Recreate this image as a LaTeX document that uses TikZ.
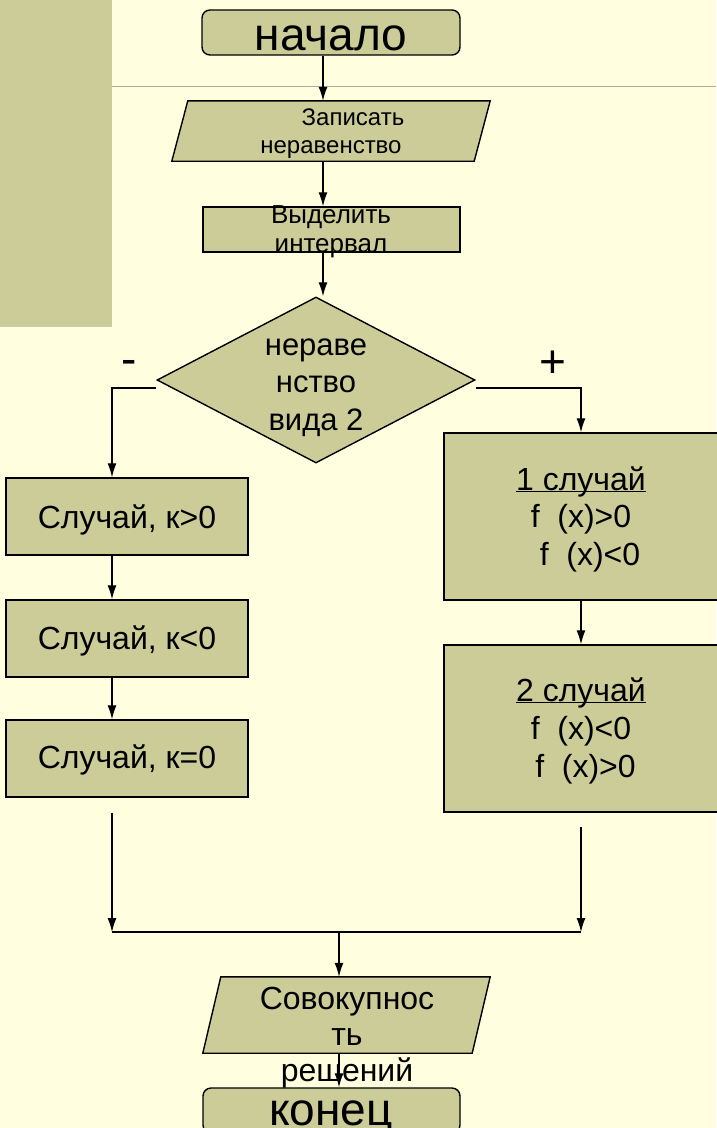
\documentclass[tikz,border=0pt]{standalone}
\usepackage{fontspec}
\setmainfont{Liberation Sans}
\usepackage{tikz}
\usetikzlibrary{shapes.geometric,arrows.meta}

\definecolor{paper}{RGB}{255,255,224}
\definecolor{olive}{RGB}{204,204,153}
\definecolor{rulegray}{RGB}{178,170,160}
\newcommand\ulin[1]{\underline{\smash{#1}}}

\begin{document}
\begin{tikzpicture}[x=1pt,y=-1pt,
  box/.style={draw,line width=1.4pt,fill=olive,inner sep=0pt},
  arr/.style={line width=1.3pt,-{Latex[length=14pt,width=9pt]}},
  txt/.style={anchor=base,align=center,inner sep=0pt}]
% Frame of the slide
\useasboundingbox (0,0) rectangle (716,1128);
\fill[paper] (0,0) rectangle (716,1128);
\fill[olive] (0,0) rectangle (112,327);
\draw[rulegray,line width=1pt] (112,86) -- (716,86);

% Columns of the connectors
\coordinate (spine) at (323,0);
\coordinate (lcol) at (112,0);
\coordinate (join) at (339,932);

% Blocks of the main line
\node[box,rounded corners=8pt,minimum width=258,minimum height=45] (start) at (331,32.5) {};
\node[inner sep=0pt,minimum width=302,minimum height=60] (write) at (331,131) {};
\draw[box] ([xshift=8pt]write.north west) -- ([xshift=8pt]write.north east)
  -- ([xshift=-8pt]write.south east) -- ([xshift=-8pt]write.south west) -- cycle;
\node[box,minimum width=257,minimum height=45] (sel) at (331.5,229.5) {};
\node[box,diamond,minimum width=318,minimum height=166] (dec) at (316,380) {};

% Blocks of the left branch
\node[box,minimum width=242,minimum height=77] (m1) at (127,516.5) {};
\node[box,minimum width=242,minimum height=77] (m2) at (127,638.5) {};
\node[box,minimum width=242,minimum height=77] (m3) at (127,758.5) {};

% Blocks of the right branch
\node[box,minimum width=274,minimum height=167] (p1) at (581,516.5) {};
\node[box,minimum width=274,minimum height=167] (p2) at (581,728.5) {};

% Blocks of the end
\node[inner sep=0pt,minimum width=269,minimum height=76] (res) at (346.5,1015) {};
\draw[box] ([xshift=9pt]res.north west) -- ([xshift=9pt]res.north east)
  -- ([xshift=-9pt]res.south east) -- ([xshift=-9pt]res.south west) -- cycle;
\node[box,rounded corners=8pt,minimum width=257,minimum height=45] (stop) at (331.5,1110.5) {};

% Texts (base = last line)
\node[txt,font=\fontsize{46}{50}\selectfont] (starttxt) at (331,50) {начало};
\node[txt,font=\fontsize{24}{28}\selectfont] (writetxt) at (331,153) {\hspace*{44pt}Записать\\неравенство};
\node[txt,font=\fontsize{26}{29}\selectfont] (seltxt) at (331,252) {Выделить\\интервал};
\node[txt,font=\fontsize{31}{37.5}\selectfont] (dectxt) at (316,430) {нераве\\нство\\вида 2};
\node[font=\fontsize{46}{50}\selectfont] (minus) at (129,367) {-};
\node[font=\fontsize{46}{50}\selectfont] (plus) at (553,364) {+};
\node[txt,font=\fontsize{32}{37}\selectfont] (m1txt) at (127,528) {Случай, к>0};
\node[txt,font=\fontsize{32}{37}\selectfont] (m2txt) at (127,649) {Случай, к<0};
\node[txt,font=\fontsize{32}{37}\selectfont] (m3txt) at (127,768) {Случай, к=0};
\node[txt,font=\fontsize{32}{37.5}\selectfont] (p1txt) at (581,565) {\ulin{1 случай}\\f~~(x)>0\\\hspace*{18pt}f~~(x)<0};
\node[txt,font=\fontsize{32}{38}\selectfont] (p2txt) at (581,777) {\ulin{2 случай}\\f~~(x)<0\\\hspace*{9pt}f~~(x)>0};
\node[txt,font=\fontsize{32}{36}\selectfont] (restxt) at (347,1081) {Совокупнос\\ть\\решений};
\node[txt,font=\fontsize{46}{50}\selectfont] (stoptxt) at (331,1125) {конец};

% Connectors
\draw[arr] (start.south -| spine) -- (write.north -| spine);
\draw[arr] (write.south -| spine) -- (sel.north -| spine);
\draw[arr] (sel.south -| spine) -- (dec.north -| spine);
\draw[arr] ([yshift=-8pt]dec.west) -| (m1.north -| lcol);
\draw[arr] ([yshift=-8pt]dec.east) -| (p1.north);
\draw[arr] (m1.south -| lcol) -- (m2.north -| lcol);
\draw[arr] (m2.south -| lcol) -- (m3.north -| lcol);
\draw[arr] (p1.south) -- (p2.north);
\draw[arr] ([yshift=-15pt]m3.south -| lcol) -- (join -| lcol);
\draw[arr] ([yshift=-14pt]p2.south) -- (join -| p2);
\draw[line width=1.3pt] (join -| lcol) -- (join -| p2);
\draw[arr] (join) -- (res.north -| join);
\draw[arr] (res.south -| join) -- (stop.north -| join);
\end{tikzpicture}
\end{document}
